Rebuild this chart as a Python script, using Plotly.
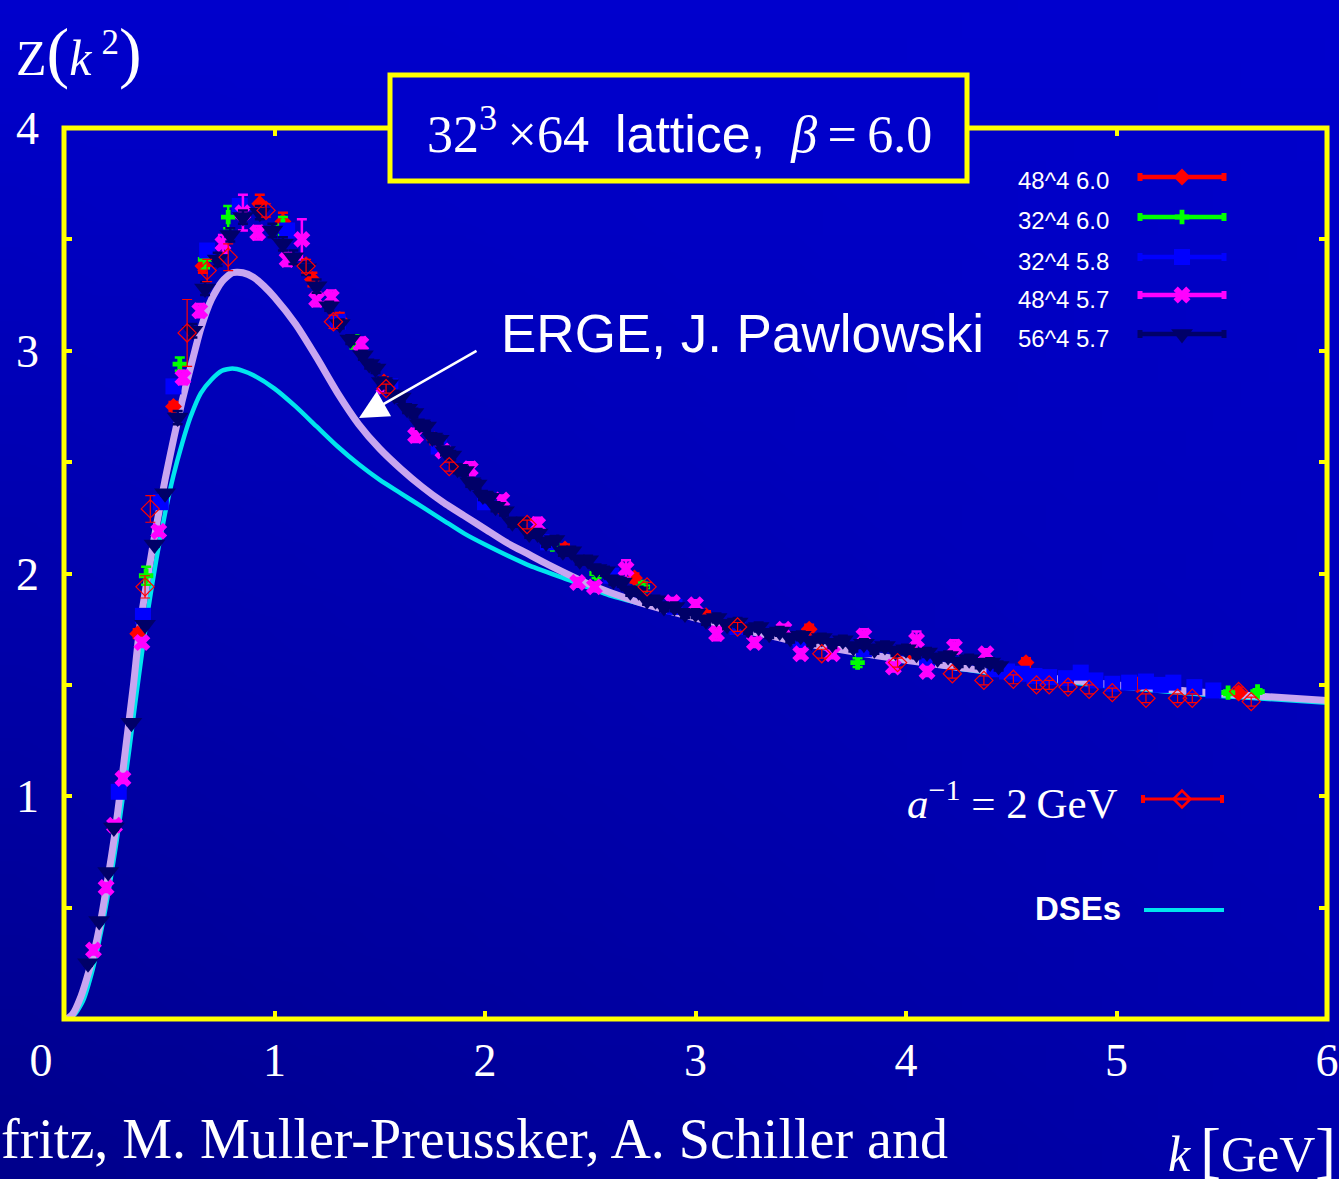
import base64
import struct
import zlib

import plotly.graph_objects as go

# ---------------------------------------------------------------- canvas
W, H = 1339, 1179
ML, MR, MT, MB = 64, 12, 128, 160
PW, PH = W - ML - MR, H - MT - MB

SERIF = "Liberation Serif, Times New Roman, serif"
SANS = "Liberation Sans, Arial, sans-serif"
WHITE = "#FFFFFF"
YELLOW = "#FFFF00"

# ---------------------------------------------------------------- data
# ERGE (J. Pawlowski) gluon dressing function
erge_k = [0.00, 0.04, 0.08, 0.12, 0.15, 0.18, 0.21, 0.24, 0.27, 0.30, 0.33, 0.36,
          0.40, 0.44, 0.48, 0.52, 0.56, 0.60, 0.65, 0.70, 0.75, 0.80, 0.85, 0.90,
          0.95, 1.00, 1.10, 1.20, 1.30, 1.40, 1.50, 1.60, 1.70, 1.80, 1.90, 2.00,
          2.10, 2.20, 2.30, 2.50, 2.70, 3.00, 3.50, 4.00, 4.50, 5.00, 5.50, 6.00]
erge_z = [-0.01, 0.02, 0.10, 0.22, 0.33, 0.47, 0.64, 0.82, 1.04, 1.27, 1.50, 1.76,
          2.00, 2.22, 2.42, 2.60, 2.77, 2.92, 3.10, 3.23, 3.31, 3.35, 3.35, 3.33,
          3.29, 3.24, 3.12, 2.97, 2.81, 2.67, 2.56, 2.47, 2.39, 2.32, 2.26, 2.20,
          2.14, 2.09, 2.04, 1.95, 1.88, 1.80, 1.69, 1.61, 1.55, 1.50, 1.46, 1.43]

# DSE solution
dse_k = [0.00, 0.05, 0.09, 0.13, 0.16, 0.19, 0.22, 0.25, 0.28, 0.31, 0.34, 0.37,
         0.40, 0.44, 0.48, 0.52, 0.56, 0.60, 0.65, 0.70, 0.75, 0.80, 0.85, 0.90,
         1.00, 1.10, 1.20, 1.30, 1.40, 1.50, 1.60, 1.70, 1.80, 1.90, 2.00, 2.20,
         2.40, 2.60, 2.80, 3.00, 3.50, 4.00, 4.50, 5.00, 5.50, 6.00]
dse_z = [0.00, 0.02, 0.08, 0.20, 0.32, 0.46, 0.62, 0.80, 1.00, 1.21, 1.43, 1.64,
         1.84, 2.07, 2.27, 2.44, 2.58, 2.70, 2.81, 2.87, 2.91, 2.92, 2.91, 2.89,
         2.83, 2.75, 2.66, 2.57, 2.49, 2.42, 2.36, 2.30, 2.24, 2.18, 2.13, 2.04,
         1.97, 1.90, 1.85, 1.80, 1.70, 1.61, 1.54, 1.49, 1.45, 1.42]

# lattice: 48^4, beta = 6.0
l48b60_k = [0.35, 0.52, 0.66, 0.93, 1.04, 1.18, 1.31, 1.52, 1.76, 2.07, 2.38, 2.71,
            3.05, 3.54, 4.02, 4.57, 5.10, 5.58]
l48b60_z = [1.73, 2.75, 3.38, 3.66, 3.58, 3.32, 3.14, 2.86, 2.60, 2.30, 2.11, 1.98,
            1.81, 1.75, 1.65, 1.60, 1.50, 1.465]
l48b60_e = [0.02, 0.02, 0.03, 0.04, 0.04, 0.03, 0.03, 0.02, 0.02, 0.02, 0.02, 0.02,
            0.02, 0.02, 0.02, 0.02, 0.01, 0.01]

# lattice: 32^4, beta = 6.0
l32b60_k = [0.39, 0.55, 0.67, 0.78, 1.04, 1.38, 1.79, 2.32, 2.53, 2.75, 3.77, 5.53, 5.67]
l32b60_z = [1.99, 2.94, 3.41, 3.60, 3.56, 3.04, 2.56, 2.13, 2.00, 1.94, 1.60, 1.465, 1.47]
l32b60_e = [0.04, 0.03, 0.04, 0.05, 0.04, 0.03, 0.02, 0.02, 0.02, 0.02, 0.02, 0.01, 0.01]

# lattice: 32^4, beta = 5.8
l32b58_k = [0.26, 0.375, 0.46, 0.52, 0.68, 0.835, 1.06, 1.30, 1.55, 1.78, 2.00, 2.30,
            2.60, 2.90, 3.20, 3.50, 3.80, 4.10, 4.42, 4.48, 4.55, 4.61, 4.68, 4.76,
            4.83, 4.90, 4.98, 5.06, 5.14, 5.21, 5.27, 5.37, 5.46]
l32b58_z = [1.02, 1.81, 2.32, 2.84, 3.45, 3.65, 3.54, 3.13, 2.84, 2.57, 2.32, 2.14,
            1.99, 1.85, 1.76, 1.70, 1.66, 1.61, 1.57, 1.56, 1.55, 1.54, 1.535, 1.53,
            1.555, 1.52, 1.505, 1.51, 1.515, 1.50, 1.51, 1.49, 1.475]
l32b58_e = [0.02] * 8 + [0.015] * 25

# lattice: 48^4, beta = 5.7
l48b57_k = [0.14, 0.20, 0.24, 0.28, 0.37, 0.45, 0.565, 0.645, 0.755, 0.85, 0.92, 1.06,
            1.13, 1.20, 1.27, 1.41, 1.52, 1.67, 1.80, 1.93, 2.08, 2.25, 2.44, 2.52,
            2.67, 2.89, 3.00, 3.10, 3.28, 3.42, 3.50, 3.65, 3.80, 3.94, 4.05, 4.10,
            4.23, 4.38]
l48b57_z = [0.31, 0.59, 0.87, 1.08, 1.69, 2.19, 2.88, 3.18, 3.48, 3.62, 3.53, 3.41,
            3.50, 3.23, 3.24, 3.03, 2.84, 2.62, 2.55, 2.47, 2.33, 2.22, 1.96, 1.94,
            2.02, 1.87, 1.86, 1.73, 1.69, 1.75, 1.64, 1.64, 1.72, 1.58, 1.70, 1.56,
            1.67, 1.64]
l48b57_e = [0.02, 0.02, 0.02, 0.02, 0.02, 0.02, 0.03, 0.03, 0.04, 0.08, 0.03, 0.03,
            0.09, 0.03, 0.03, 0.03, 0.02, 0.03, 0.02, 0.03, 0.02, 0.03, 0.02, 0.02,
            0.04, 0.02, 0.02, 0.03, 0.02, 0.02, 0.02, 0.02, 0.03, 0.02, 0.04, 0.02,
            0.03, 0.02]

# lattice: 56^4, beta = 5.7
l56b57_k = [0.114, 0.167, 0.21, 0.237, 0.32, 0.385, 0.43, 0.48, 0.54, 0.61, 0.67, 0.73,
            0.79, 0.85, 0.93, 0.99, 1.04, 1.09, 1.15, 1.20, 1.26, 1.31, 1.36,
            1.42, 1.45, 1.48, 1.51, 1.54, 1.57, 1.60, 1.63, 1.66, 1.69, 1.72, 1.75,
            1.78, 1.81, 1.84, 1.87, 1.90, 1.93, 1.96, 1.99, 2.02, 2.05, 2.09, 2.13,
            2.17, 2.21, 2.25, 2.29, 2.33, 2.37, 2.41, 2.45, 2.49, 2.53, 2.57, 2.61,
            2.65, 2.69, 2.73, 2.77, 2.81, 2.85, 2.90, 2.95, 3.00, 3.05, 3.10, 3.15,
            3.20, 3.25, 3.30, 3.35, 3.40, 3.45, 3.50, 3.55, 3.60, 3.65, 3.70, 3.75,
            3.80, 3.85, 3.90, 3.95, 4.00, 4.05, 4.10, 4.15, 4.20, 4.25, 4.30, 4.35,
            4.40, 4.44]
l56b57_z = [0.25, 0.44, 0.66, 0.86, 1.33, 1.77, 2.13, 2.36, 2.70, 3.09, 3.28, 3.41,
            3.52, 3.60, 3.62, 3.54, 3.48, 3.42, 3.37, 3.29, 3.20, 3.12, 3.05,
            2.98, 2.94, 2.92, 2.86, 2.85, 2.80, 2.79, 2.74, 2.72, 2.67, 2.66, 2.61,
            2.60, 2.55, 2.53, 2.47, 2.46, 2.41, 2.40, 2.35, 2.34, 2.30, 2.28, 2.23,
            2.23, 2.18, 2.18, 2.14, 2.15, 2.10, 2.10, 2.06, 2.06, 2.02, 2.01, 1.97,
            1.96, 1.92, 1.92, 1.88, 1.88, 1.85, 1.85, 1.82, 1.82, 1.79, 1.80, 1.77,
            1.78, 1.75, 1.76, 1.73, 1.74, 1.71, 1.72, 1.695, 1.71, 1.685, 1.70, 1.67,
            1.685, 1.66, 1.675, 1.65, 1.66, 1.64, 1.645, 1.62, 1.63, 1.60, 1.615, 1.595,
            1.60, 1.585]
l56b57_e = [0.01] * 8 + [0.03] * 12 + [0.02] * 77

# lattice with a^-1 = 2 GeV
a2gev_k = [0.385, 0.41, 0.585, 0.68, 0.78, 0.96, 1.15, 1.28, 1.53, 1.83, 2.20, 2.77,
           3.20, 3.60, 3.96, 4.22, 4.37, 4.51, 4.62, 4.68, 4.77, 4.87, 4.98, 5.14,
           5.29, 5.36, 5.58, 5.64]
a2gev_z = [1.94, 2.29, 3.08, 3.36, 3.42, 3.63, 3.38, 3.13, 2.83, 2.48, 2.22, 1.94,
           1.76, 1.64, 1.60, 1.55, 1.52, 1.525, 1.50, 1.50, 1.49, 1.48, 1.465, 1.44,
           1.44, 1.44, 1.47, 1.425]
a2gev_e = [0.05, 0.06, 0.15, 0.05, 0.06, 0.03, 0.03, 0.03, 0.02, 0.02, 0.02, 0.02,
           0.02, 0.02, 0.02, 0.02, 0.02, 0.02, 0.02, 0.02, 0.02, 0.02, 0.02, 0.02,
           0.02, 0.02, 0.02, 0.02]

x_ticks = [0, 1, 2, 3, 4, 5, 6]
x_tick_text = ["0\u00a0\u00a0\u00a0\u00a0", "1", "2", "3", "4", "5", "6"]
y_ticks = [0, 0.5, 1, 1.5, 2, 2.5, 3, 3.5, 4]
y_tick_text = ["", "", "1", "", "2", "", "3", "", "4"]

# (label, colour, marker symbol, marker size, k, Z, error)
lattice_sets = [
    ("48^4 6.0", "#FF0000", "diamond", 13, l48b60_k, l48b60_z, l48b60_e),
    ("32^4 6.0", "#00FF00", "cross", 12, l32b60_k, l32b60_z, l32b60_e),
    ("32^4 5.8", "#0000FF", "square", 16, l32b58_k, l32b58_z, l32b58_e),
    ("48^4 5.7", "#FF00FF", "x", 15, l48b57_k, l48b57_z, l48b57_e),
    ("56^4 5.7", "#000068", "triangle-down", 19, l56b57_k, l56b57_z, l56b57_e),
]
for _, _, _, _, ks, zs, es in lattice_sets:
    assert len(ks) == len(zs) == len(es)
assert len(a2gev_k) == len(a2gev_z) == len(a2gev_e)
assert len(erge_k) == len(erge_z) and len(dse_k) == len(dse_z)

ERGE_COLOR = "#C8A6F0"
DSE_COLOR = "#00E5EE"


# ---------------------------------------------------------------- helpers
def px(x):
    """canvas pixel x -> paper x"""
    return (x - ML) / PW


def py(y):
    """canvas pixel y -> paper y"""
    return (H - MB - y) / PH


def gradient_uri(w=48, h=48):
    """Blue backdrop, darker towards the lower left, as an inline PNG."""
    tl, tr, bl, br = 204, 206, 140, 172

    def blue(ix, iy):
        u, v = ix / (w - 1), iy / (h - 1)
        top = tl + (tr - tl) * u
        bot = bl + (br - bl) * u
        return int(round(top + (bot - top) * v))

    raw = b"".join(
        b"\x00" + bytes(c for ix in range(w) for c in (0, 0, blue(ix, iy)))
        for iy in range(h)
    )

    def chunk(tag, data):
        return (struct.pack(">I", len(data)) + tag + data
                + struct.pack(">I", zlib.crc32(tag + data) & 0xFFFFFFFF))

    png = (b"\x89PNG\r\n\x1a\n"
           + chunk(b"IHDR", struct.pack(">IIBBBBB", w, h, 8, 2, 0, 0, 0))
           + chunk(b"IDAT", zlib.compress(raw, 9))
           + chunk(b"IEND", b""))
    return "data:image/png;base64," + base64.b64encode(png).decode()


# ---------------------------------------------------------------- figure
fig = go.Figure()

fig.add_trace(go.Scatter(x=dse_k, y=dse_z, mode="lines",
                         line=dict(color=DSE_COLOR, width=4.5, shape="spline", smoothing=0.6),
                         hoverinfo="skip", showlegend=False))
fig.add_trace(go.Scatter(x=erge_k, y=erge_z, mode="lines",
                         line=dict(color=ERGE_COLOR, width=7, shape="spline", smoothing=0.6),
                         hoverinfo="skip", showlegend=False))

for name, color, symbol, size, ks, zs, es in lattice_sets:
    fig.add_trace(go.Scatter(
        x=ks, y=zs, mode="markers", name=name, showlegend=False,
        marker=dict(symbol=symbol, size=size, color=color, line=dict(width=0)),
        error_y=dict(type="data", array=es, color=color, thickness=2.5, width=5),
    ))

fig.add_trace(go.Scatter(
    x=a2gev_k, y=a2gev_z, mode="markers", name="a^-1 = 2 GeV", showlegend=False,
    marker=dict(symbol="diamond-open", size=14, color="#FF0000", line=dict(width=1.2)),
    error_y=dict(type="data", array=a2gev_e, color="#FF0000", thickness=1.2, width=5),
))

# ---------------------------------------------------------------- key (right side)
shapes = []
annotations = []

KEY_X0, KEY_X1, KEY_XM = 1140, 1224, 1182
key_rows = [177, 217, 257, 295, 334]

for (name, color, symbol, size, *_), yk in zip(lattice_sets, key_rows):
    shapes.append(dict(type="line", xref="paper", yref="paper",
                       x0=px(KEY_X0), x1=px(KEY_X1), y0=py(yk), y1=py(yk),
                       line=dict(color=color, width=4.5)))
    for xc in (KEY_X0, KEY_X1):
        shapes.append(dict(type="line", xref="paper", yref="paper",
                           x0=px(xc), x1=px(xc), y0=py(yk - 4), y1=py(yk + 4),
                           line=dict(color=color, width=5)))
    fig.add_trace(go.Scatter(
        x=[KEY_XM], y=[yk], xaxis="x2", yaxis="y2", mode="markers",
        marker=dict(symbol=symbol, size=size, color=color, line=dict(width=0)),
        hoverinfo="skip", showlegend=False))
    annotations.append(dict(xref="paper", yref="paper", x=px(1111), y=py(yk + 4),
                            xanchor="right", yanchor="middle", showarrow=False,
                            text=name, font=dict(family=SANS, size=24, color=WHITE)))

# a^-1 = 2 GeV entry
ya = 799
shapes.append(dict(type="line", xref="paper", yref="paper",
                   x0=px(1143), x1=px(1222), y0=py(ya), y1=py(ya),
                   line=dict(color="#FF0000", width=3)))
for xc in (1143, 1222):
    shapes.append(dict(type="line", xref="paper", yref="paper",
                       x0=px(xc), x1=px(xc), y0=py(ya - 4), y1=py(ya + 4),
                       line=dict(color="#FF0000", width=4)))
fig.add_trace(go.Scatter(
    x=[KEY_XM], y=[ya], xaxis="x2", yaxis="y2", mode="markers",
    marker=dict(symbol="diamond-open", size=13, color="#FF0000", line=dict(width=2.5)),
    hoverinfo="skip", showlegend=False))
annotations.append(dict(xref="paper", yref="paper", x=px(1120), y=py(800),
                        xanchor="right", yanchor="middle", showarrow=False,
                        text="<i>a</i><sup>\u22121</sup> = 2\u2009GeV",
                        font=dict(family=SERIF, size=43, color=WHITE)))

# DSEs entry
yd = 910
shapes.append(dict(type="line", xref="paper", yref="paper",
                   x0=px(1144), x1=px(1224), y0=py(yd), y1=py(yd),
                   line=dict(color=DSE_COLOR, width=4)))
annotations.append(dict(xref="paper", yref="paper", x=px(1123), y=py(908),
                        xanchor="right", yanchor="middle", showarrow=False,
                        text="<b>DSEs</b>", font=dict(family=SANS, size=33, color=WHITE)))

# ---------------------------------------------------------------- frame and title box
shapes.append(dict(type="rect", xref="paper", yref="paper", x0=0, x1=1, y0=0, y1=1,
                   line=dict(color=YELLOW, width=5), layer="above"))
shapes.append(dict(type="rect", xref="paper", yref="paper",
                   x0=px(390), x1=px(967), y0=py(181), y1=py(75),
                   line=dict(color=YELLOW, width=5), fillcolor="rgb(0,0,202)", layer="above"))
annotations.append(dict(
    xref="paper", yref="paper", x=px(679), y=py(130), xanchor="center", yanchor="middle",
    showarrow=False,
    text=("32<sup>3</sup>\u2009\u00d764\u00a0\u00a0"
          "<span style='font-family:Liberation Sans, Arial, sans-serif'>lattice,</span>"
          "\u00a0\u00a0<i>\u03b2</i>\u2009=\u20096.0"),
    font=dict(family=SERIF, size=52, color=WHITE)))

# ERGE label with arrow
annotations.append(dict(xref="paper", yref="paper", x=px(499), y=py(334),
                        xanchor="left", yanchor="middle", showarrow=False,
                        text="ERGE, J. Pawlowski",
                        font=dict(family=SANS, size=53, color=WHITE)))
annotations.append(dict(xref="paper", yref="paper", x=px(359), y=py(418),
                        ax=119, ay=-68, axref="pixel", ayref="pixel", text="",
                        showarrow=True, arrowhead=2, arrowsize=2.3, arrowwidth=2.5,
                        arrowcolor=WHITE, standoff=0))

# axis titles
annotations.append(dict(
    xref="paper", yref="paper", x=px(14), y=py(52), xanchor="left", yanchor="middle",
    showarrow=False,
    text=("Z<span style='font-size:68px'>(</span><i>k</i>\u2009<sup>2</sup>"
          "<span style='font-size:68px'>)</span>"),
    font=dict(family=SERIF, size=50, color=WHITE)))
annotations.append(dict(
    xref="paper", yref="paper", x=px(1338), y=py(1150), xanchor="right", yanchor="middle",
    showarrow=False,
    text="<i>k</i>\u2009<span style='font-size:62px'>[</span>GeV<span style='font-size:62px'>]</span>",
    font=dict(family=SERIF, size=50, color=WHITE)))

# citation line along the bottom
annotations.append(dict(
    xref="paper", yref="paper", x=px(-1), y=py(1139), xanchor="left", yanchor="middle",
    showarrow=False, text="fritz, M. Muller-Preussker, A. Schiller and",
    font=dict(family=SERIF, size=56, color=WHITE)))

# ---------------------------------------------------------------- layout
axis_common = dict(showgrid=False, zeroline=False, showline=False, automargin=False,
                   ticks="inside", ticklen=8, tickwidth=4, tickcolor=YELLOW,
                   mirror="ticks", tickfont=dict(family=SERIF, size=46, color=WHITE))

fig.update_layout(
    width=W, height=H,
    margin=dict(l=ML, r=MR, t=MT, b=MB, pad=0, autoexpand=False),
    paper_bgcolor="rgb(0,0,180)",
    plot_bgcolor="rgba(0,0,0,0)",
    showlegend=False,
    xaxis=dict(range=[0, 6], tickmode="array", tickvals=x_ticks, ticktext=x_tick_text,
               ticklabelstandoff=10, **axis_common),
    yaxis=dict(range=[0, 4], tickmode="array", tickvals=y_ticks, ticktext=y_tick_text,
               ticklabelstandoff=24, **axis_common),
    xaxis2=dict(range=[ML, W - MR], overlaying="x", anchor="y2", visible=False),
    yaxis2=dict(range=[H - MB, MT], overlaying="y", anchor="x2", visible=False),
    shapes=shapes,
    annotations=annotations,
    images=[dict(source=gradient_uri(), xref="paper", yref="paper",
                 x=px(0), y=py(0), sizex=W / PW, sizey=H / PH,
                 xanchor="left", yanchor="top", sizing="stretch", layer="below")],
)

fig.write_html("out.html")
